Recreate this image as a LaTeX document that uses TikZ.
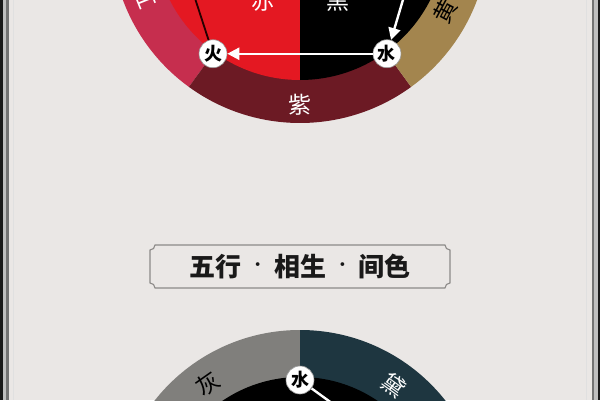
\documentclass[tikz,border=0pt]{standalone}
\usepackage{fontspec}
\newfontfamily\cjk{Noto Sans CJK SC}
\usetikzlibrary{arrows.meta}
\definecolor{bgc}{RGB}{234,231,229}
\definecolor{pinkc}{RGB}{198,46,78}
\definecolor{maroonc}{RGB}{108,26,36}
\definecolor{redc}{RGB}{228,24,34}
\definecolor{goldc}{RGB}{163,133,78}
\definecolor{grayc}{RGB}{128,127,124}
\definecolor{tealc}{RGB}{30,54,64}
\definecolor{boxc}{RGB}{140,138,136}
\newcommand{\tdot}{\hspace{5pt}\raisebox{3pt}{\normalfont\bfseries ·}\hspace{5pt}}
\tikzset{
  el/.style={circle,fill=white,draw=black!40,line width=0.6pt,minimum size=28pt,inner sep=0pt,font=\cjk\bfseries\fontsize{18}{18}\selectfont,text=black},
  ringw/.style={font=\cjk\fontsize{23}{23}\selectfont,text=white,inner sep=0pt},
  ringk/.style={font=\cjk\fontsize{23}{23}\selectfont,text=black,inner sep=0pt},
  wline/.style={draw=white,line width=2.4pt},
  warrow/.style={wline,-{Triangle[length=12pt,width=12pt]}},
  dline/.style={draw=black!85!red,line width=1.8pt},
}
\begin{document}
\begin{tikzpicture}[x=1pt,y=1pt]
\useasboundingbox (0,0) rectangle (600,400);
\clip (0,0) rectangle (600,400);
\fill[bgc] (0,0) rectangle (600,400);
% edge stripes
\fill[black!90] (0,0) rectangle (2.5,400);
\fill[black!25] (2.5,0) rectangle (6,400);
\fill[black!55] (6,0) rectangle (8.5,400);
\fill[black!12] (13,0) rectangle (14,400);
\fill[black!90] (597.5,0) rectangle (600,400);
\fill[black!25] (594,0) rectangle (597.5,400);
\fill[black!55] (591.5,0) rectangle (594,400);
\fill[black!12] (586,0) rectangle (587,400);

% ---------- top wheel ----------
\fill[pinkc] (300,466) -- ++(162:189) arc[start angle=162,end angle=234,radius=189] -- cycle;
\fill[maroonc] (300,466) -- ++(234:189) arc[start angle=234,end angle=306,radius=189] -- cycle;
\fill[goldc] (300,466) -- ++(306:189) arc[start angle=306,end angle=378,radius=189] -- cycle;
\fill[redc] (300,320) arc[start angle=270,end angle=90,radius=146] -- cycle;
\fill[black] (300,320) arc[start angle=-90,end angle=90,radius=146] -- cycle;

\node[ringw] (zi) at ([shift={(300,466)}]270:171) {紫};
\node[ringw] (chi) at (263,399) {赤};
\node[ringw] (hei) at (338,399) {黑};
\node[ringw,rotate=-68] (hong) at ([shift={(300,466)}]202:167) {红};
\node[ringk,rotate=62] (huang) at ([shift={(300,466)}]-28:165) {黄};

\coordinate (jin) at ([shift={(300,466)}]21:148);
\coordinate (mu) at ([shift={(300,466)}]162:148);
\node[el] (huo) at ([shift={(300,466)}]234:148) {火};
\node[el] (shui) at ([shift={(300,466)}]306:148) {水};
\draw[dline] (mu) -- (huo);
\draw[warrow] (shui) -- (huo);
\draw[warrow] (jin) -- (shui);

% ---------- title ----------
\draw[boxc,line width=1.1pt]
  (155,112) -- (445,112) arc[start angle=180,end angle=90,radius=5]
  -- (450,150) arc[start angle=270,end angle=180,radius=5]
  -- (155,155) arc[start angle=0,end angle=-90,radius=5]
  -- (150,117) arc[start angle=90,end angle=0,radius=5] -- cycle;
\node[font=\cjk\bfseries\fontsize{26}{26}\selectfont,text=black!90] (title) at (300,133.5) {五行\tdot 相生\tdot 间色};

% ---------- bottom wheel ----------
\fill[grayc] (300,-115) -- ++(90:185) arc[start angle=90,end angle=270,radius=185] -- cycle;
\fill[tealc] (300,-115) -- ++(90:185) arc[start angle=90,end angle=-90,radius=185] -- cycle;
\fill[black] (300,-115) circle[radius=138];
\node[ringk,rotate=35] (hui) at ([shift={(300,-115)}]125:160) {灰};
\node[ringw,rotate=-36] (dai) at ([shift={(300,-115)}]54:160) {黛};
\coordinate (mub) at ([shift={(300,-115)}]18:135);
\node[el] (shuib) at ([shift={(300,-115)}]90:135) {水};
\draw[wline] (shuib) -- (mub);
\end{tikzpicture}
\end{document}
